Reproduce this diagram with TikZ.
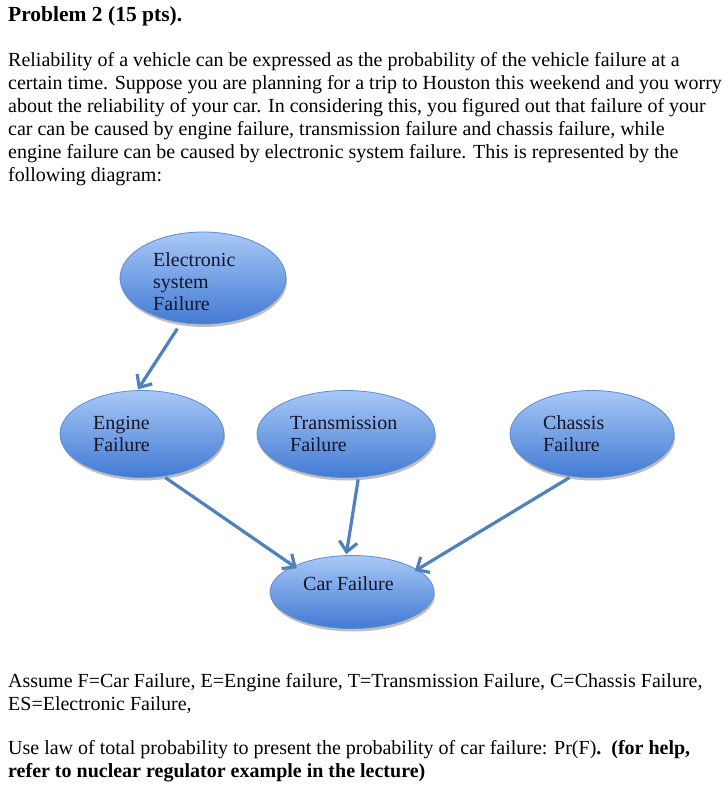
\documentclass[tikz,border=0pt]{standalone}
\usepackage{fontspec}
\setmainfont{Liberation Serif}
\usetikzlibrary{arrows.meta,shadows,shapes.geometric}
\definecolor{arrowblue}{RGB}{79,129,189}
\definecolor{topblue}{RGB}{168,200,246}
\definecolor{botblue}{RGB}{66,122,212}
\definecolor{edgeblue}{RGB}{92,140,210}
\definecolor{inktext}{RGB}{20,20,40}
\tikzset{
  oval/.style={ellipse, draw=edgeblue, line width=0.8pt, top color=topblue, bottom color=botblue, inner sep=0pt,
    drop shadow={shadow xshift=1pt, shadow yshift=-3pt, fill=black, opacity=0.25}},
  intext/.style={anchor=base west, inner sep=0pt, font=\fontsize{20}{22}\selectfont, text=inktext, align=left},
  body/.style={anchor=base west, inner sep=0pt, font=\fontsize{20}{23}\selectfont},
  link/.style={draw=arrowblue, line width=3.2pt, -{Straight Barb[length=10pt,width=18pt,line width=3.2pt]}}
}
\begin{document}
\begin{tikzpicture}[x=1pt,y=-1pt]
\useasboundingbox (0,0) rectangle (728,790);
\fill[white] (0,0) rectangle (728,790);

% text
\node[body, font=\fontsize{21.5}{24}\selectfont] (title) at (8,21) {\textbf{Problem 2 (15 pts).}};
\node[body] (l1) at (8,66) {Reliability of a vehicle can be expressed as the probability of the vehicle failure at a};
\node[body] (l2) at (8,89) {certain time. Suppose you are planning for a trip to Houston this weekend and you worry};
\node[body] (l3) at (8,112) {about the reliability of your car. In considering this, you figured out that failure of your};
\node[body] (l4) at (8,135) {car can be caused by engine failure, transmission failure and chassis failure, while};
\node[body] (l5) at (8,158) {engine failure can be caused by electronic system failure. This is represented by the};
\node[body] (l6) at (8,181) {following diagram:};

% ovals
\node[oval, minimum width=166pt, minimum height=92pt] (es) at (203,278) {};
\node[oval, minimum width=164pt, minimum height=87pt] (eng) at (142,434) {};
\node[oval, minimum width=178pt, minimum height=87pt] (tra) at (346,434) {};
\node[oval, minimum width=164pt, minimum height=87pt] (cha) at (592,434) {};
\node[oval, minimum width=164pt, minimum height=73pt] (car) at (352,592) {};

\node[intext] (esl) at (153,310) {Electronic\\system\\Failure};
\node[intext] (engl) at (93,451) {Engine\\Failure};
\node[intext] (tral) at (290,451) {Transmission\\Failure};
\node[intext] (chal) at (543,451) {Chassis\\Failure};
\node[intext] (carl) at (303,590) {Car Failure};

% connectors
\draw[link, shorten <=7pt, shorten >=1pt] (es.244) -- (eng.96);
\draw[link, shorten <=2pt, shorten >=-4pt] (eng.297) -- (car.156);
\draw[link, shorten <=2pt, shorten >=1pt] (tra.286) -- (car.99);
\draw[link, shorten <=2pt, shorten >=-3pt] (cha.244) -- (car.19);

% bottom text
\node[body] (b1) at (8,687) {Assume F=Car Failure, E=Engine failure, T=Transmission Failure, C=Chassis Failure,};
\node[body] (b2) at (8,710) {ES=Electronic Failure,};
\node[body] (b3) at (8,754) {Use law of total probability to present the probability of car failure: Pr(F)\textbf{.\ \ (for help,}};
\node[body] (b4) at (8,777) {\textbf{refer to nuclear regulator example in the lecture)}};
\end{tikzpicture}
\end{document}
